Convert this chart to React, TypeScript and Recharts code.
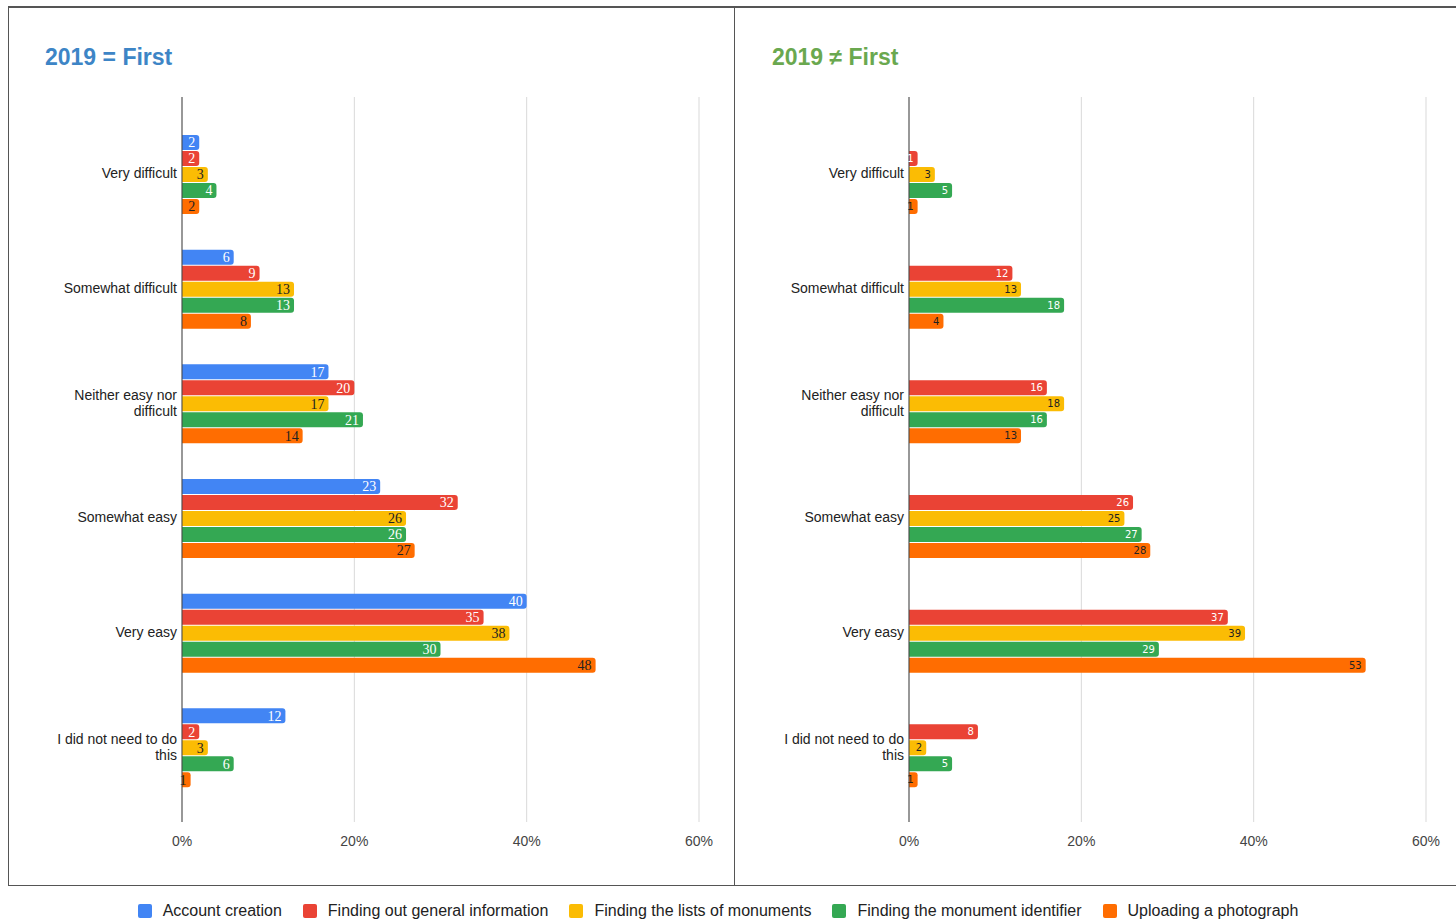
import React from 'react';
import { BarChart, Bar, XAxis, YAxis, CartesianGrid, LabelList } from 'recharts';

const categories = [
  'Very difficult',
  'Somewhat difficult',
  'Neither easy nor difficult',
  'Somewhat easy',
  'Very easy',
  'I did not need to do this',
];

const seriesNames = [
  'Account creation',
  'Finding out general information',
  'Finding the lists of monuments',
  'Finding the monument identifier',
  'Uploading a photograph',
];

const seriesColors = ['#4285F4', '#EA4335', '#FBBC04', '#34A853', '#FF6D01'];
const labelColors = ['#ffffff', '#ffffff', '#222222', '#ffffff', '#222222'];

// 2019 = First
const firstAccount = [2, 6, 17, 23, 40, 12];
const firstGeneral = [2, 9, 20, 32, 35, 2];
const firstLists = [3, 13, 17, 26, 38, 3];
const firstIdentifier = [4, 13, 21, 26, 30, 6];
const firstPhoto = [2, 8, 14, 27, 48, 1];

// 2019 ≠ First (no account creation answers)
const otherAccount = [null, null, null, null, null, null];
const otherGeneral = [1, 12, 16, 26, 37, 8];
const otherLists = [3, 13, 18, 25, 39, 2];
const otherIdentifier = [5, 18, 16, 27, 29, 5];
const otherPhoto = [1, 4, 13, 28, 53, 1];

const xTicks = [0, 20, 40, 60];

const buildRows = (cols: (number | null)[][]) =>
  categories.map((name, i) => {
    const row: Record<string, any> = { name };
    seriesNames.forEach((s, j) => {
      row[s] = cols[j][i];
    });
    return row;
  });

const firstData = buildRows([firstAccount, firstGeneral, firstLists, firstIdentifier, firstPhoto]);
const otherData = buildRows([otherAccount, otherGeneral, otherLists, otherIdentifier, otherPhoto]);

const CategoryTick = (props: any) => {
  const { x, y, payload } = props;
  const text: string = payload.value;
  // wrap long labels the way the sheet does
  let lines = [text];
  if (text === 'Neither easy nor difficult') lines = ['Neither easy nor', 'difficult'];
  if (text === 'I did not need to do this') lines = ['I did not need to do', 'this'];
  const lh = 16;
  const startY = y - ((lines.length - 1) * lh) / 2;
  return (
    <text x={x + 3} y={startY} textAnchor="end" fill="#222" fontSize={14} fontFamily="Arial, 'Liberation Sans', sans-serif">
      {lines.map((l, i) => (
        <tspan key={i} x={x + 3} y={startY + i * lh} dominantBaseline="central">{l}</tspan>
      ))}
    </text>
  );
};

const Panel = ({ data, labelFont, labelSize }: { data: any[]; labelFont: string; labelSize: number }) => (
  <BarChart
    width={726}
    height={870}
    data={data}
    layout="vertical"
    margin={{ top: 89, right: 36, left: 0, bottom: 26 }}
    barCategoryGap={19}
    barGap={1}
  >
    <CartesianGrid horizontal={false} stroke="#d9d9d9" />
    <XAxis
      type="number"
      domain={[0, 60]}
      ticks={xTicks}
      tickFormatter={(v: number) => `${v}%`}
      axisLine={false}
      tickLine={false}
      tick={{ fill: '#444', fontSize: 14, fontFamily: "Arial, 'Liberation Sans', sans-serif" }}
      tickMargin={8}
    />
    <YAxis
      type="category"
      dataKey="name"
      width={173}
      padding={{ top: 19, bottom: 18 }}
      axisLine={{ stroke: '#444' }}
      tickLine={false}
      tick={<CategoryTick />}
    />
    {seriesNames.map((s, i) => (
      <Bar key={s} dataKey={s} fill={seriesColors[i]} radius={[0, 3, 3, 0]} isAnimationActive={false}>
        <LabelList
          dataKey={s}
          position="insideRight"
          offset={4}
          fill={labelColors[i]}
          fontSize={labelSize}
          fontFamily={labelFont}
        />
      </Bar>
    ))}
  </BarChart>
);

const App = () => (
  <div style={{ position: 'absolute', left: 0, top: 0, width: 1456, height: 919, background: '#fff', overflow: 'hidden' }}>
    {/* frame */}
    <div style={{ position: 'absolute', left: 8, top: 6, width: 1460, height: 877, borderTop: '2px solid #555', borderLeft: '1.5px solid #555', borderBottom: '1.5px solid #555' }} />
    <div style={{ position: 'absolute', left: 734, top: 6, width: 0, height: 879, borderLeft: '1.5px solid #555' }} />

    <div style={{ position: 'absolute', left: 9, top: 8 }}>
      <Panel data={firstData} labelFont="'Liberation Serif', 'Times New Roman', serif" labelSize={14} />
    </div>
    <div style={{ position: 'absolute', left: 736, top: 8 }}>
      <Panel data={otherData} labelFont="'DejaVu Sans', sans-serif" labelSize={10} />
    </div>

    <div style={{ position: 'absolute', left: 45, top: 44, color: '#3d85c6', fontWeight: 'bold', fontSize: 23, fontFamily: "Arial, 'Liberation Sans', sans-serif" }}>
      2019 = First
    </div>
    <div style={{ position: 'absolute', left: 772, top: 44, color: '#6aa84f', fontWeight: 'bold', fontSize: 23, fontFamily: "Arial, 'Liberation Sans', sans-serif" }}>
      2019 ≠ First
    </div>

    {/* legend */}
    <div style={{ position: 'absolute', left: 0, top: 902, width: 1436, display: 'flex', justifyContent: 'center', gap: 21, fontFamily: "Arial, 'Liberation Sans', sans-serif", fontSize: 16, color: '#222' }}>
      {seriesNames.map((s, i) => (
        <div key={s} style={{ display: 'flex', alignItems: 'center' }}>
          <span style={{ display: 'inline-block', width: 14, height: 14, borderRadius: 2, background: seriesColors[i], marginRight: 11 }} />
          <span>{s}</span>
        </div>
      ))}
    </div>
  </div>
);

export default App;
